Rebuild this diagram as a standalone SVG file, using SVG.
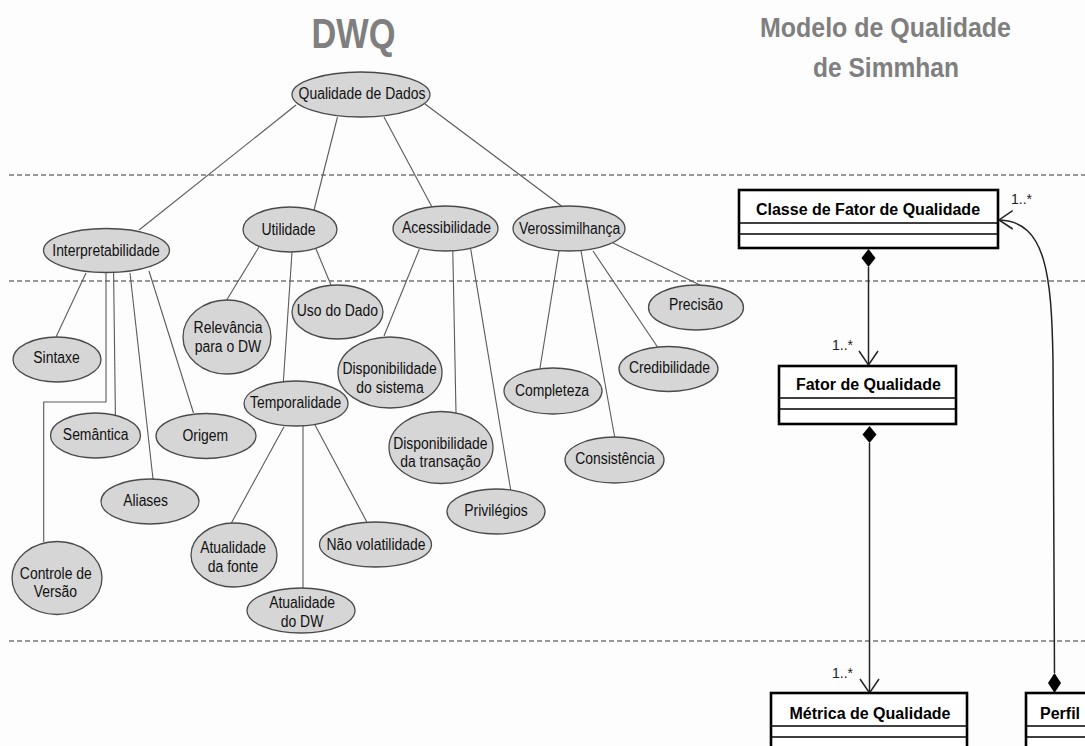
<svg xmlns="http://www.w3.org/2000/svg" width="1085" height="746" viewBox="0 0 1085 746">
  <defs>
    <style>
      .title { font-family: "Liberation Sans", Arial, sans-serif; font-weight: bold; fill: #7f7f7f; text-anchor: middle; }
      .node ellipse { fill: #d6d6d6; stroke: #4a4a4a; stroke-width: 1.3; }
      .node text { font-family: "Liberation Sans", Arial, sans-serif; font-size: 16px; fill: #111; text-anchor: middle; }
      .edge { fill: none; stroke: #5a5a5a; stroke-width: 1.1; }
      .sep { stroke: #333; stroke-width: 1.2; stroke-dasharray: 5 3; }
      .cls rect { fill: #fff; stroke: #000; stroke-width: 2.6; }
      .cls line { stroke: #000; stroke-width: 1.6; }
      .cls text { font-family: "Liberation Sans", Arial, sans-serif; font-size: 16px; font-weight: bold; fill: #000; text-anchor: middle; }
      .assoc { fill: none; stroke: #222; stroke-width: 1.5; }
      .mult { font-family: "Liberation Sans", Arial, sans-serif; font-size: 14px; fill: #222; }
    </style>
  </defs>

  <rect width="1085" height="746" fill="#fdfdfd"/>

  <!-- headings -->
  <text class="title" x="353.5" y="48" font-size="43" textLength="84" lengthAdjust="spacingAndGlyphs">DWQ</text>
  <text class="title" x="885.5" y="37" font-size="27" textLength="251" lengthAdjust="spacingAndGlyphs">Modelo de Qualidade</text>
  <text class="title" x="886" y="77" font-size="27" textLength="146" lengthAdjust="spacingAndGlyphs">de Simmhan</text>

  <!-- level separators -->
  <g id="separators">
    <line class="sep" x1="9" y1="175" x2="1085" y2="175"/>
    <line class="sep" x1="9" y1="281" x2="1085" y2="281"/>
    <line class="sep" x1="9" y1="641" x2="1085" y2="641"/>
  </g>

  <!-- tree connectors -->
  <g id="connectors">
    <line class="edge" x1="296" y1="105" x2="139" y2="230"/>
    <line class="edge" x1="337.5" y1="117" x2="314" y2="210"/>
    <line class="edge" x1="384" y1="117" x2="432" y2="207"/>
    <line class="edge" x1="425" y1="104" x2="561.5" y2="206"/>
    <line class="edge" x1="86" y1="273" x2="56" y2="337"/>
    <polyline class="edge" points="106,273 106,402 43.7,402 43.7,542"/>
    <line class="edge" x1="113.6" y1="273" x2="115.4" y2="415"/>
    <line class="edge" x1="130" y1="273" x2="153" y2="479"/>
    <line class="edge" x1="149" y1="271" x2="193.5" y2="413"/>
    <line class="edge" x1="259" y1="247" x2="225.5" y2="302"/>
    <line class="edge" x1="292" y1="252" x2="283.4" y2="381"/>
    <line class="edge" x1="316" y1="249" x2="331" y2="285"/>
    <line class="edge" x1="419.4" y1="249" x2="384" y2="336"/>
    <line class="edge" x1="452.8" y1="251" x2="456" y2="413"/>
    <line class="edge" x1="470.7" y1="249" x2="510.7" y2="490"/>
    <line class="edge" x1="559" y1="251" x2="540" y2="368"/>
    <line class="edge" x1="581" y1="251" x2="614.7" y2="437"/>
    <line class="edge" x1="593" y1="251" x2="657.5" y2="347"/>
    <line class="edge" x1="613" y1="243" x2="700" y2="285"/>
    <line class="edge" x1="284" y1="426.7" x2="231.4" y2="523"/>
    <line class="edge" x1="303" y1="426" x2="303" y2="588"/>
    <line class="edge" x1="315" y1="425" x2="366.7" y2="521.7"/>

    <!-- UML associations -->
    <path class="assoc" d="M868.5,267 L868.5,364"/>
    <polyline class="assoc" points="859,351 868.5,365 878,351"/>
    <path class="assoc" d="M869.5,443 L869.5,692"/>
    <polyline class="assoc" points="860,679 869.5,693 879,679"/>
    <path class="assoc" d="M1054.5,673 L1053,360 C1051.5,275 1046,222 1000,220"/>
    <polyline class="assoc" points="1012.7,210.7 999,220 1012.7,229"/>
    <polygon points="868.5,249 875.5,258 868.5,267 861.5,258" fill="#000"/>
    <polygon points="869.5,426 876.5,434.5 869.5,443 862.5,434.5" fill="#000"/>
    <polygon points="1054.5,673 1061,683 1054.5,693 1048,683" fill="#000"/>
  </g>

  <!-- multiplicities -->
  <text class="mult" x="1011" y="204">1..*</text>
  <text class="mult" x="832" y="350">1..*</text>
  <text class="mult" x="832" y="678">1..*</text>

  <!-- DWQ quality tree -->
  <g id="qualidade-de-dados" class="node"><ellipse cx="361" cy="94.5" rx="69" ry="22.5"/><text transform="translate(362,99) scale(0.87,1)">Qualidade de Dados</text></g>
  <g id="interpretabilidade" class="node"><ellipse cx="106.5" cy="250.5" rx="63" ry="22"/><text transform="translate(106,256.4) scale(0.87,1)">Interpretabilidade</text></g>
  <g id="utilidade" class="node"><ellipse cx="290" cy="229.5" rx="47" ry="22.5"/><text transform="translate(288.5,234.7) scale(0.87,1)">Utilidade</text></g>
  <g id="acessibilidade" class="node"><ellipse cx="445.5" cy="228.5" rx="52.5" ry="22.5"/><text transform="translate(446.4,233.4) scale(0.87,1)">Acessibilidade</text></g>
  <g id="verossimilhanca" class="node"><ellipse cx="569" cy="228.5" rx="56" ry="22.5"/><text transform="translate(569.6,234) scale(0.87,1)">Verossimilhança</text></g>

  <g id="sintaxe" class="node"><ellipse cx="57" cy="359.5" rx="44" ry="22.5"/><text transform="translate(56.5,363) scale(0.87,1)">Sintaxe</text></g>
  <g id="semantica" class="node"><ellipse cx="95.5" cy="435.5" rx="45" ry="22.5"/><text transform="translate(95.7,440) scale(0.87,1)">Semântica</text></g>
  <g id="origem" class="node"><ellipse cx="206" cy="436" rx="50" ry="22.5"/><text transform="translate(205.3,441.4) scale(0.87,1)">Origem</text></g>
  <g id="aliases" class="node"><ellipse cx="150" cy="501.5" rx="49" ry="22.5"/><text transform="translate(145.6,505.7) scale(0.87,1)">Aliases</text></g>
  <g id="controle-de-versao" class="node"><ellipse cx="57" cy="578" rx="45" ry="36.5"/><text transform="translate(55.8,579) scale(0.87,1)">Controle de</text><text transform="translate(55.4,597.4) scale(0.87,1)">Versão</text></g>

  <g id="relevancia" class="node"><ellipse cx="227" cy="337" rx="44" ry="37"/><text transform="translate(228,333.4) scale(0.87,1)">Relevância</text><text transform="translate(228,352.4) scale(0.87,1)">para o DW</text></g>
  <g id="uso-do-dado" class="node"><ellipse cx="337.5" cy="312" rx="45.5" ry="27"/><text transform="translate(337.4,315.7) scale(0.87,1)">Uso do Dado</text></g>
  <g id="temporalidade" class="node"><ellipse cx="296" cy="403.5" rx="52" ry="22.5"/><text transform="translate(295.7,408.4) scale(0.87,1)">Temporalidade</text></g>
  <g id="atualidade-fonte" class="node"><ellipse cx="234" cy="555" rx="43" ry="32"/><text transform="translate(233,553.4) scale(0.87,1)">Atualidade</text><text transform="translate(233,572.4) scale(0.87,1)">da fonte</text></g>
  <g id="nao-volatilidade" class="node"><ellipse cx="375.5" cy="544.5" rx="56" ry="22.5"/><text transform="translate(376,549.7) scale(0.87,1)">Não volatilidade</text></g>
  <g id="atualidade-dw" class="node"><ellipse cx="301" cy="610.5" rx="54" ry="22.5"/><text transform="translate(302,608.4) scale(0.87,1)">Atualidade</text><text transform="translate(302,627.4) scale(0.87,1)">do DW</text></g>

  <g id="disp-sistema" class="node"><ellipse cx="390" cy="372.5" rx="52" ry="35.5"/><text transform="translate(389.6,373.7) scale(0.87,1)">Disponibilidade</text><text transform="translate(390,393) scale(0.87,1)">do sistema</text></g>
  <g id="disp-transacao" class="node"><ellipse cx="441" cy="447.5" rx="52" ry="36"/><text transform="translate(440.4,449) scale(0.87,1)">Disponibilidade</text><text transform="translate(440.4,467.4) scale(0.87,1)">da transação</text></g>
  <g id="privilegios" class="node"><ellipse cx="496" cy="511.5" rx="49" ry="22.5"/><text transform="translate(496,515.7) scale(0.87,1)">Privilégios</text></g>

  <g id="completeza" class="node"><ellipse cx="553" cy="391" rx="49" ry="23"/><text transform="translate(552,395.7) scale(0.87,1)">Completeza</text></g>
  <g id="consistencia" class="node"><ellipse cx="614.5" cy="460" rx="49.5" ry="23"/><text transform="translate(615,464) scale(0.87,1)">Consistência</text></g>
  <g id="credibilidade" class="node"><ellipse cx="668.5" cy="369" rx="49.5" ry="22.5"/><text transform="translate(669.5,373.4) scale(0.87,1)">Credibilidade</text></g>
  <g id="precisao" class="node"><ellipse cx="696" cy="307.5" rx="47.5" ry="22.5"/><text transform="translate(696,310) scale(0.87,1)">Precisão</text></g>

  <!-- Simmhan UML classes -->
  <g id="classe-fator" class="cls">
    <rect x="739" y="190" width="259" height="58"/>
    <line x1="739" y1="223" x2="998" y2="223"/>
    <line x1="739" y1="234" x2="998" y2="234"/>
    <text x="868" y="215">Classe de Fator de Qualidade</text>
  </g>
  <g id="fator" class="cls">
    <rect x="779" y="366" width="177" height="58"/>
    <line x1="779" y1="398" x2="956" y2="398"/>
    <line x1="779" y1="409" x2="956" y2="409"/>
    <text x="868.4" y="389.5">Fator de Qualidade</text>
  </g>
  <g id="metrica" class="cls">
    <rect x="771" y="693" width="196" height="70"/>
    <line x1="771" y1="726" x2="967" y2="726"/>
    <line x1="771" y1="737" x2="967" y2="737"/>
    <text x="870" y="718.5">Métrica de Qualidade</text>
  </g>
  <g id="perfil" class="cls">
    <rect x="1026" y="693" width="80" height="70"/>
    <line x1="1026" y1="726" x2="1106" y2="726"/>
    <line x1="1026" y1="737" x2="1106" y2="737"/>
    <text x="1040" y="718.5" style="text-anchor: start">Perfil</text>
  </g>
</svg>
